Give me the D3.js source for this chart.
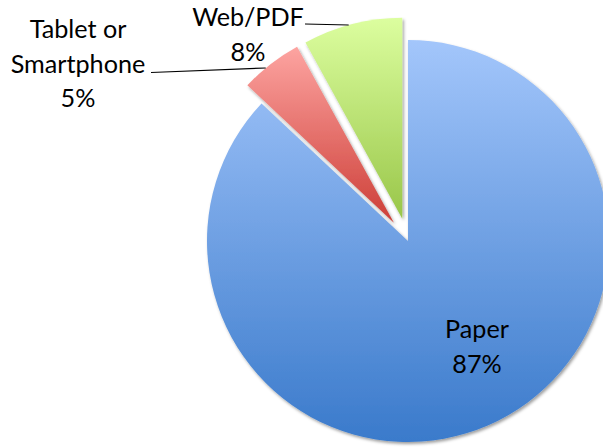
<!DOCTYPE html>
<html>
<head>
<meta charset="utf-8">
<script src="https://cdn.jsdelivr.net/npm/d3@7"></script>
<style>
  html, body { margin: 0; padding: 0; background: #ffffff; }
  svg { display: block; }
  text { font-family: Lato, "Open Sans", sans-serif; fill: #000; }
</style>
</head>
<body>
<svg id="chart" width="603" height="448"></svg>
<script>
// Share of readers by format
const categories = ["Paper", "Tablet or Smartphone", "Web/PDF"];
const values = [87, 5, 8];
const labelLines = [["Paper"], ["Tablet or", "Smartphone"], ["Web/PDF"]];

const topColors = ["#a3c6fb", "#fda4a1", "#dcfe9f"];
const bottomColors = ["#3a7acb", "#cd3e37", "#99c649"];

const W = 603, H = 448;
const cx = 408, cy = 241, radius = 201;
const explode = [0, 23, 23];

const svg = d3.select("#chart");
const defs = svg.append("defs");

const shadow = defs.append("filter").attr("id", "soft-shadow")
  .attr("x", "-10%").attr("y", "-10%").attr("width", "120%").attr("height", "120%");
shadow.append("feDropShadow")
  .attr("dx", 1.5).attr("dy", 2).attr("stdDeviation", 1.4)
  .attr("flood-color", "#000").attr("flood-opacity", 0.38);

categories.forEach((c, i) => {
  const g = defs.append("linearGradient").attr("id", "grad" + i)
    .attr("x1", 0).attr("y1", 0).attr("x2", 0).attr("y2", 1);
  g.append("stop").attr("offset", "0%").attr("stop-color", topColors[i]);
  g.append("stop").attr("offset", "100%").attr("stop-color", bottomColors[i]);
});

const pie = d3.pie().sort(null).value(d => d)
  .startAngle(0).endAngle(2 * Math.PI);
const arcs = pie(values);
const arc = d3.arc().innerRadius(0).outerRadius(radius);

const offset = (d, i) => {
  const mid = (d.startAngle + d.endAngle) / 2;
  return [Math.sin(mid) * explode[i], -Math.cos(mid) * explode[i]];
};

const pieG = svg.append("g").attr("transform", `translate(${cx},${cy})`);

pieG.selectAll("path.slice")
  .data(arcs)
  .join("path")
  .attr("class", "slice")
  .attr("transform", (d, i) => { const o = offset(d, i); return `translate(${o[0]},${o[1]})`; })
  .attr("d", arc)
  .attr("fill", (d, i) => `url(#grad${i})`)
  .attr("filter", "url(#soft-shadow)");

// Label layout: [x centre, first baseline]
const labelPos = [[477, 338], [78, 38], [248, 26]];
const lineH = 34.5;
const fontSize = 25.2;

const labels = svg.append("g");
arcs.forEach((d, i) => {
  const lines = labelLines[i].concat([values[i] + "%"]);
  const [lx, ly] = labelPos[i];
  lines.forEach((t, k) => {
    labels.append("text")
      .attr("x", lx).attr("y", ly + k * lineH)
      .attr("text-anchor", "middle")
      .attr("font-size", fontSize)
      .text(t);
  });
});

// Leader lines: from beside the label to where they meet the slice's outer arc
const leaders = [
  { i: 1, start: [151, 72.5], endY: 68 },
  { i: 2, start: [305, 24], endY: 25 }
];
leaders.forEach(l => {
  const d = arcs[l.i];
  const o = offset(d, l.i);
  const vx = cx + o[0], vy = cy + o[1];
  const dy = l.endY - vy;
  const ex = vx - Math.sqrt(radius * radius - dy * dy);
  svg.append("line")
    .attr("x1", l.start[0]).attr("y1", l.start[1])
    .attr("x2", ex).attr("y2", l.endY)
    .attr("stroke", "#000").attr("stroke-width", 1.2);
});
</script>
</body>
</html>
